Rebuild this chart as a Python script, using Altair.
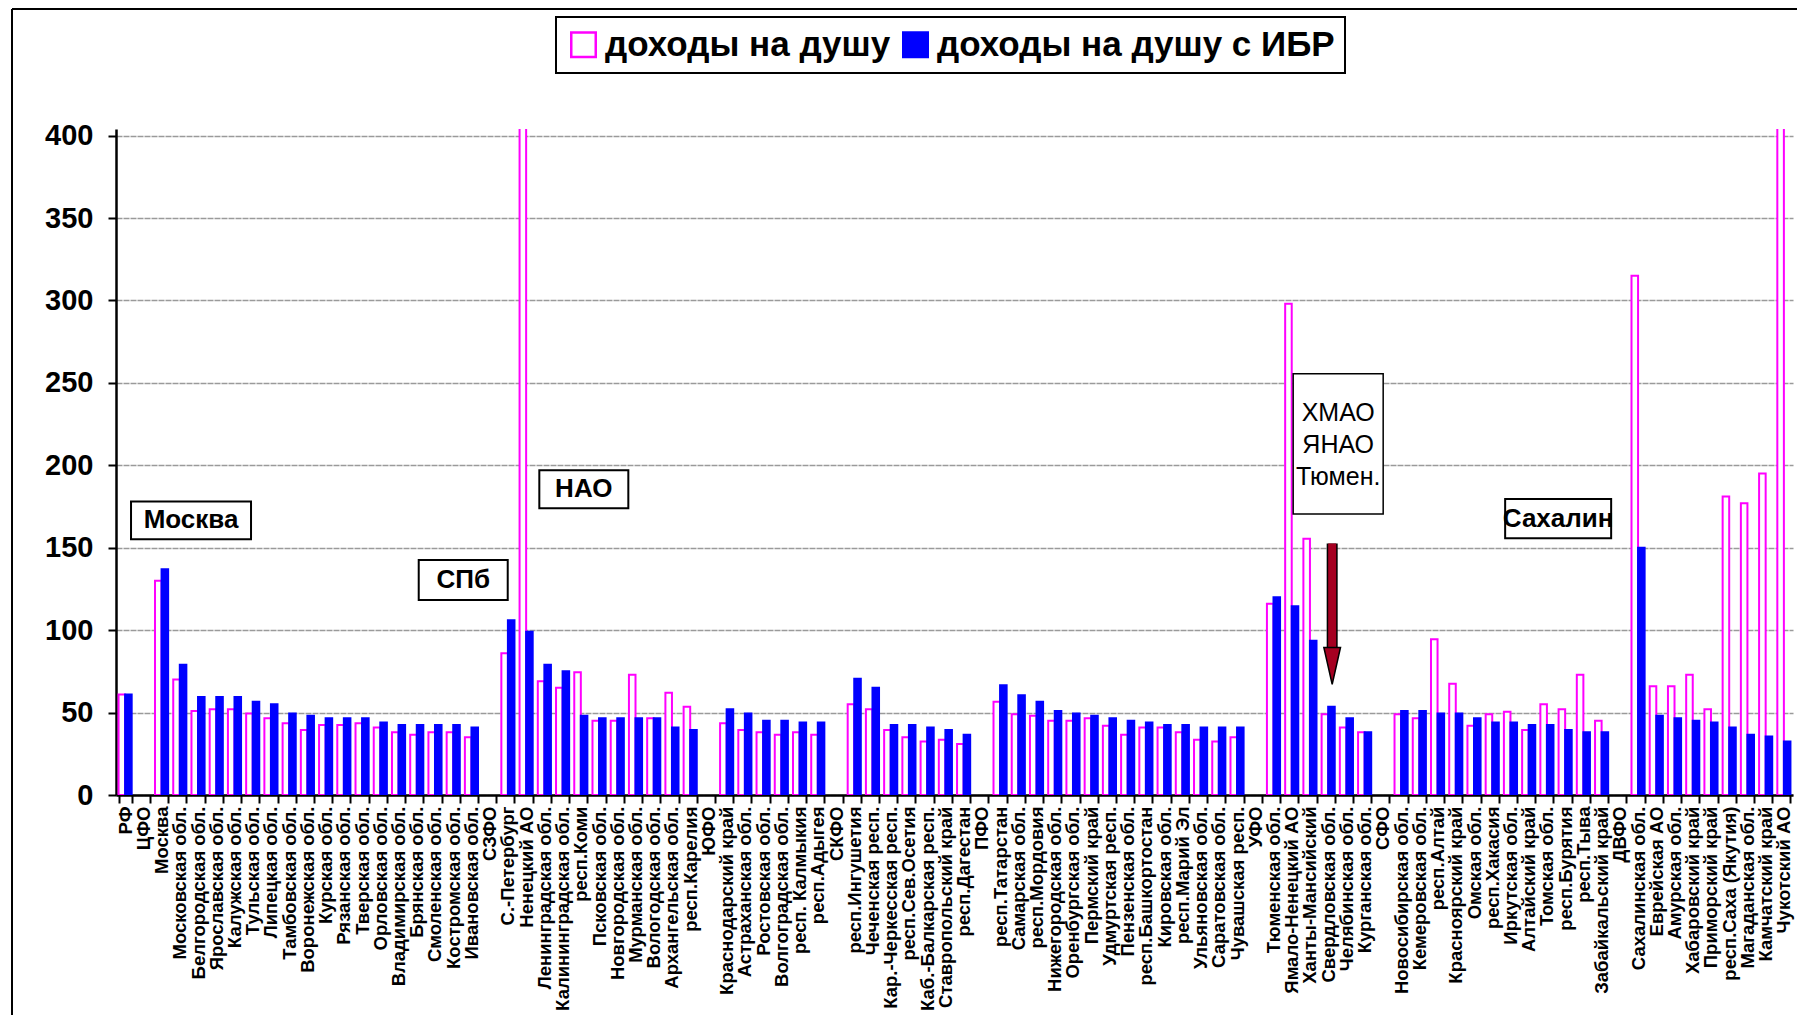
import altair as alt
import pandas as pd

FONT = "Liberation Sans"

categories = [
    "РФ", "ЦФО", "Москва", "Московская обл.", "Белгородская обл.", "Ярославская обл.",
    "Калужская обл.", "Тульская обл.", "Липецкая обл.", "Тамбовская обл.", "Воронежская обл.",
    "Курская обл.", "Рязанская обл.", "Тверская обл.", "Орловская обл.", "Владимирская обл.",
    "Брянская обл.", "Смоленская обл.", "Костромская обл.", "Ивановская обл.", "СЗФО",
    "С.-Петербург", "Ненецкий АО", "Ленинградская обл.", "Калининградская обл.", "респ.Коми",
    "Псковская обл.", "Новгородская обл.", "Мурманская обл.", "Вологодская обл.",
    "Архангельская обл.", "респ.Карелия", "ЮФО", "Краснодарский край", "Астраханская обл.",
    "Ростовская обл.", "Волгоградская обл.", "респ. Калмыкия", "респ.Адыгея", "СКФО",
    "респ.Ингушетия", "Чеченская респ.", "Кар.-Черкесская респ.", "респ.Сев.Осетия",
    "Каб.-Балкарская респ.", "Ставропольский край", "респ.Дагестан", "ПФО", "респ.Татарстан",
    "Самарская обл.", "респ.Мордовия", "Нижегородская обл.", "Оренбургская обл.",
    "Пермский край", "Удмуртская респ.", "Пензенская обл.", "респ.Башкортостан",
    "Кировская обл.", "респ.Марий Эл", "Ульяновская обл.", "Саратовская обл.",
    "Чувашская респ.", "УФО", "Тюменская обл.", "Ямало-Ненецкий АО", "Ханты-Мансийский",
    "Свердловская обл.", "Челябинская обл.", "Курганская обл.", "СФО", "Новосибирская обл.",
    "Кемеровская обл.", "респ.Алтай", "Красноярский край", "Омская обл.", "респ.Хакасия",
    "Иркутская обл.", "Алтайский край", "Томская обл.", "респ.Бурятия", "респ.Тыва",
    "Забайкальский край", "ДВФО", "Сахалинская обл.", "Еврейская АО", "Амурская обл.",
    "Хабаровский край", "Приморский край", "респ.Саха (Якутия)", "Магаданская обл.",
    "Камчатский край", "Чукотский АО",
]

# доходы на душу (values above 400 run off the chart)
income = [
    61, None, 130, 70, 51, 52, 52, 49.5, 46.5, 43.5, 39.5,
    42.5, 42.5, 43.5, 41, 38, 36.5, 38, 38, 35, None,
    86, 600, 69, 65, 74.5, 45, 45, 73, 46.5, 62, 53.5, None,
    43.5, 39.5, 38, 36.5, 38, 36.5, None,
    55, 52, 39.5, 35, 32.5, 33.5, 31, None,
    56.5, 49, 48, 45, 45, 46.5, 42, 36.5, 41, 41, 38, 33.5, 32.5, 35, None,
    116, 298, 155.5, 49, 41, 38, None,
    49, 46.5, 94.5, 67.5, 42, 49, 50.5, 39.5, 55, 52, 73, 45, None,
    315, 66, 66, 73, 52, 181, 177, 195, 600,
]

# доходы на душу с ИБР
income_ibr = [
    61, None, 137, 79, 59.5, 59.5, 59.5, 56.5, 55, 49.5, 48,
    46.5, 46.5, 46.5, 44, 42.5, 42.5, 42.5, 42.5, 41, None,
    106, 99, 79, 75, 48, 46.5, 46.5, 46.5, 46.5, 41, 39.5, None,
    52, 49.5, 45, 45, 44, 44, None,
    70.5, 65, 42.5, 42.5, 41, 39.5, 36.5, None,
    66.5, 60.5, 56.5, 51, 49.5, 48, 46.5, 45, 44, 42.5, 42.5, 41, 41, 41, None,
    120, 114.5, 93.5, 53.5, 46.5, 38, None,
    51, 51, 49.5, 49.5, 46.5, 44, 44, 42.5, 42.5, 39.5, 38, 38, None,
    150, 48, 46.5, 45, 44, 41, 36.5, 35.5, 32.5,
]

series_names = ["доходы на душу", "доходы на душу с ИБР"]
y_ticks = [0, 50, 100, 150, 200, 250, 300, 350, 400]

rows = []
for c, a, b in zip(categories, income, income_ibr):
    rows.append({"region": c, "series": series_names[0], "value": a})
    rows.append({"region": c, "series": series_names[1], "value": b})
df = pd.DataFrame(rows)

x_enc = alt.X(
    "region:N",
    sort=categories,
    scale=alt.Scale(domain=categories, paddingInner=0.28, paddingOuter=0.14),
    axis=alt.Axis(
        title=None, labelAngle=-90, labelFont=FONT, labelFontWeight="bold",
        labelFontSize=18.5, labelColor="black", labelLimit=400, labelOverlap=False,
        labelPadding=3, tickBand="extent", tickColor="black", tickWidth=2,
        tickSize=8, domainColor="black", domainWidth=2.5, grid=False,
    ),
)
y_enc = alt.Y(
    "value:Q",
    scale=alt.Scale(domain=[0, 404], nice=False, zero=True),
    axis=alt.Axis(
        title=None, values=y_ticks, labelFont=FONT, labelFontWeight="bold",
        labelFontSize=29, labelColor="black", labelPadding=15, tickSize=8,
        tickColor="black", tickWidth=2, domainColor="black", domainWidth=2.5,
        grid=True, gridColor="#9a9a9a", gridWidth=1.5, gridDash=[6, 1],
    ),
)

legend = alt.Legend(title=None, orient="none", legendX=440, legendY=-112,
                    direction="horizontal", columns=2)

bars = alt.Chart(df).mark_bar(strokeWidth=2, clip=True).encode(
    x=x_enc,
    xOffset=alt.XOffset("series:N", sort=series_names,
                        scale=alt.Scale(domain=series_names, paddingInner=0, paddingOuter=0)),
    y=y_enc,
    fill=alt.Fill("series:N", scale=alt.Scale(domain=series_names, range=["white", "#0000FF"]),
                  legend=legend),
    stroke=alt.Stroke("series:N", scale=alt.Scale(domain=series_names, range=["#FF00FF", "#0000FF"]),
                      legend=legend),
)

# annotation boxes: anchor category, pixel shift, box top/bottom (value units), box width
ann_labels = ["Москва", "СПб", "НАО", "Сахалин"]
ann_anchor = ["Белгородская обл.", "Костромская обл.", "респ.Коми", "респ.Бурятия"]
ann_shift = [-7, 10, 3, -7]
ann_top = [178.1, 142.5, 197.0, 179.5]
ann_bottom = [155.1, 118.3, 173.9, 155.8]
ann_width = [120, 89, 89, 106]

layers = [bars]
for lab, anc, sh, t, b, w in zip(ann_labels, ann_anchor, ann_shift, ann_top, ann_bottom, ann_width):
    d = pd.DataFrame([{"region": anc, "value": t, "value2": b, "mid": (t + b) / 2, "label": lab}])
    box = alt.Chart(d).mark_bar(width=w, xOffset=sh, fill="white", stroke="black",
                                strokeWidth=2).encode(x=x_enc, y=y_enc, y2="value2:Q")
    txt = alt.Chart(d).mark_text(dx=sh, font=FONT, fontSize=26, fontWeight="bold",
                                 color="black", align="center", baseline="middle").encode(
        x=x_enc, y=alt.Y("mid:Q"), text="label:N")
    layers += [box, txt]

# ХМАО / ЯНАО / Тюмен. box
kh_lines = ["ХМАО", "ЯНАО", "Тюмен."]
kh_line_y = [231.9, 212.3, 192.8]
kh_box = pd.DataFrame([{"region": "Свердловская обл.", "value": 255.6, "value2": 170.5}])
kh_txt = pd.DataFrame({"region": ["Свердловская обл."] * 3, "value": kh_line_y, "label": kh_lines})
layers.append(alt.Chart(kh_box).mark_bar(width=90, xOffset=10, fill="white", stroke="black",
                                         strokeWidth=1.5).encode(x=x_enc, y=y_enc, y2="value2:Q"))
layers.append(alt.Chart(kh_txt).mark_text(dx=10, font=FONT, fontSize=25, color="black",
                                          align="center", baseline="middle").encode(
    x=x_enc, y=y_enc, text="label:N"))

# arrow pointing at Свердловская обл.
arrow_shaft = pd.DataFrame([{"region": "Свердловская обл.", "value": 152.5, "value2": 88.0}])
arrow_head = pd.DataFrame([{"region": "Свердловская обл.", "value": 78.3}])
layers.append(alt.Chart(arrow_shaft).mark_rule(strokeWidth=11, color="black", xOffset=4).encode(
    x=x_enc, y=y_enc, y2="value2:Q"))
layers.append(alt.Chart(arrow_shaft).mark_rule(strokeWidth=8, color="#A50021", xOffset=4).encode(
    x=x_enc, y=alt.Y("value:Q"), y2="value2:Q"))
layers.append(alt.Chart(arrow_head).mark_point(
    shape="M-0.45,-1L0.45,-1L0,1Z", size=1369, filled=True, fill="#A50021",
    stroke="black", strokeWidth=1.5, opacity=1, xOffset=4).encode(x=x_enc, y=y_enc))

# outer chart frame (left and top edges)
one = pd.DataFrame({"a": [0]})
layers.append(alt.Chart(one).mark_rule(color="black", strokeWidth=2).encode(
    x=alt.value(-104), y=alt.value(-120), y2=alt.value(900)))
layers.append(alt.Chart(one).mark_rule(color="black", strokeWidth=2).encode(
    x=alt.value(-104), x2=alt.value(1700), y=alt.value(-120)))

chart = alt.layer(*layers).properties(
    width=1677, height=666,
    padding={"left": 108, "top": 121, "right": 4, "bottom": 220},
    autosize=alt.AutoSizeParams(type="none"),
    background="white",
).configure_view(stroke=None).configure_legend(
    labelFont=FONT, labelFontSize=35, labelFontWeight="bold", labelColor="black",
    symbolType="square", symbolSize=600, symbolStrokeWidth=2.5,
    strokeColor="black", strokeWidth=2, padding=10, columnPadding=7, labelPadding=10,
    labelLimit=600,
)

chart.save("out.html", embed_options={"renderer": "svg", "actions": False})
